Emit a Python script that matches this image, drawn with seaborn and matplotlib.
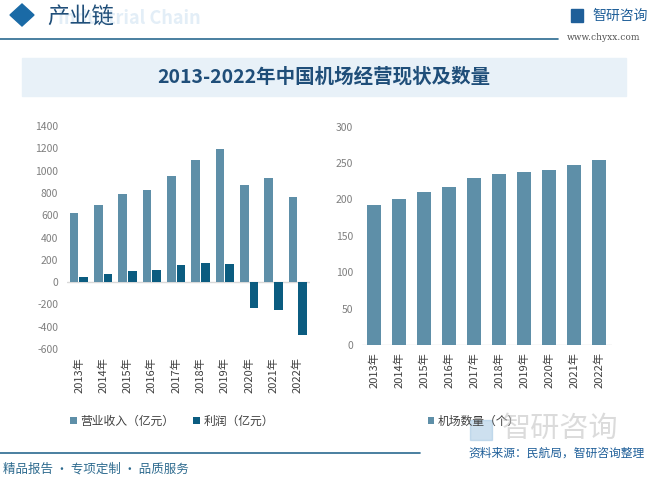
import numpy as np
import pandas as pd
import matplotlib.pyplot as plt
from matplotlib.patches import Rectangle, Polygon
from matplotlib.lines import Line2D
import seaborn as sns

# 数据
years = ["2013年", "2014年", "2015年", "2016年", "2017年",
         "2018年", "2019年", "2020年", "2021年", "2022年"]
revenue = [621, 695, 794, 830, 955, 1098, 1197, 875, 937, 767]   # 营业收入（亿元）
profit = [42, 69, 104, 113, 152, 167, 158, -236, -254, -478]      # 利润（亿元）
airports = [193, 200, 210, 217, 229, 235, 238, 241, 248, 254]    # 机场数量（个）

rev_label = "营业收入（亿元）"
pro_label = "利润（亿元）"
air_label = "机场数量（个）"

c_rev = "#5e8fa8"
c_pro = "#0b5c80"
c_tick = "#7f7f7f"
c_dark = "#1f4e79"

sns.set_theme(style="white")
plt.rcParams['font.family'] = ['Noto Sans CJK SC', 'DejaVu Sans']
plt.rcParams['axes.unicode_minus'] = False

W, H = 649, 478
fig = plt.figure(figsize=(W / 100, H / 100), dpi=100)

def fx(px):
    return px / W

def fy(py):
    return 1 - py / H

# 头部
fig.add_artist(Polygon([[fx(10), fy(15)], [fx(22), fy(4)], [fx(34), fy(15)], [fx(22), fy(26)]],
                       closed=True, color="#1a6aa6", transform=fig.transFigure))
fig.text(fx(58), fy(19), "Industrial Chain", fontsize=13, fontweight="bold",
         color="#e3eef7", va="center", ha="left", zorder=0)
fig.text(fx(47), fy(17), "产业链", fontsize=16, color=c_dark, va="center", ha="left")
fig.add_artist(Line2D([0, fx(558)], [fy(39), fy(39)], color="#2a6a90", lw=1.2,
                      transform=fig.transFigure))
fig.add_artist(Rectangle((fx(571), fy(22)), 12 / W, 13 / H, color="#1f5f99",
                         transform=fig.transFigure))
fig.text(fx(592), fy(16), "智研咨询", fontsize=10, color="#1f5f99", va="center", ha="left")
fig.text(fx(567), fy(38), "www.chyxx.com", fontsize=6.5, color="#555555",
         va="center", ha="left", family="DejaVu Serif")

# 标题
fig.add_artist(Rectangle((fx(22), fy(96)), fx(604), 38 / H, color="#e8f1f8",
                         transform=fig.transFigure, zorder=0))
fig.text(fx(324), fy(77), "2013-2022年中国机场经营现状及数量", fontsize=14,
         fontweight="bold", color=c_dark, va="center", ha="center")

# 左图：营业收入与利润
df = pd.DataFrame({
    "年份": years * 2,
    "数值": revenue + profit,
    "类别": [rev_label] * len(years) + [pro_label] * len(years),
})
ax1 = fig.add_axes([fx(66.7), fy(349), fx(310 - 66.7), (349 - 126) / H])
sns.barplot(data=df, x="年份", y="数值", hue="类别", palette=[c_rev, c_pro],
            width=0.8, gap=0.1, saturation=1, linewidth=0, ax=ax1)
ax1.set_ylim(-600, 1400)
ax1.set_yticks(np.arange(-600, 1401, 200))
ax1.set_xlim(-0.5, 9.5)
ax1.axhline(0, color="#d9d9d9", lw=1, zorder=0)
handles, labels = ax1.get_legend_handles_labels()
ax1.get_legend().remove()
ax1.legend(handles, labels, loc="center", bbox_to_anchor=(fx(172), fy(421.5)),
           bbox_transform=fig.transFigure, ncol=2, frameon=False, fontsize=8.5,
           handlelength=0.55, handleheight=0.55, handletextpad=0.3, columnspacing=1.6,
           labelcolor="#404040")

# 右图：机场数量
ax2 = fig.add_axes([fx(361.7), fy(345), fx(611.7 - 361.7), (345 - 126.7) / H])
sns.barplot(x=years, y=airports, color=c_rev, width=0.56, saturation=1,
            linewidth=0, label=air_label, ax=ax2)
ax2.set_ylim(0, 300)
ax2.set_yticks(np.arange(0, 301, 50))
ax2.set_xlim(-0.5, 9.5)
ax2.axhline(0, color="#d9d9d9", lw=1, zorder=0)
ax2.legend(loc="center", bbox_to_anchor=(fx(474), fy(421.5)),
           bbox_transform=fig.transFigure, frameon=False, fontsize=8.5,
           handlelength=0.55, handleheight=0.55, handletextpad=0.3,
           labelcolor="#404040")

for ax, pad in [(ax1, 6), (ax2, 5)]:
    sns.despine(ax=ax, left=True, bottom=True)
    ax.set_xlabel("")
    ax.set_ylabel("")
    ax.set_facecolor("none")
    ax.tick_params(axis="y", length=0, labelsize=7.5, labelcolor=c_tick, pad=6)
    ax.tick_params(axis="x", length=0, labelsize=8, labelcolor="#404040", pad=pad,
                   labelrotation=90)

# 底部
fig.add_artist(Line2D([0, fx(420)], [fy(453), fy(453)], color="#2a6a90", lw=1.2,
                      transform=fig.transFigure))
fig.text(fx(3), fy(469), "精品报告 · 专项定制 · 品质服务", fontsize=9,
         color="#2e6b8f", va="center", ha="left")
fig.text(fx(502), fy(429), "智研咨询", fontsize=21, color="#bfbfbf", alpha=0.55,
         va="center", ha="left", zorder=0)
fig.add_artist(Rectangle((fx(470), fy(440)), 22 / W, 20 / H, color="#9cc3e0",
                         alpha=0.5, transform=fig.transFigure, zorder=0))
fig.text(fx(645), fy(453), "资料来源：民航局，智研咨询整理", fontsize=8.5,
         color="#1f5f99", va="center", ha="right")

fig.savefig("out.png", dpi=100)
